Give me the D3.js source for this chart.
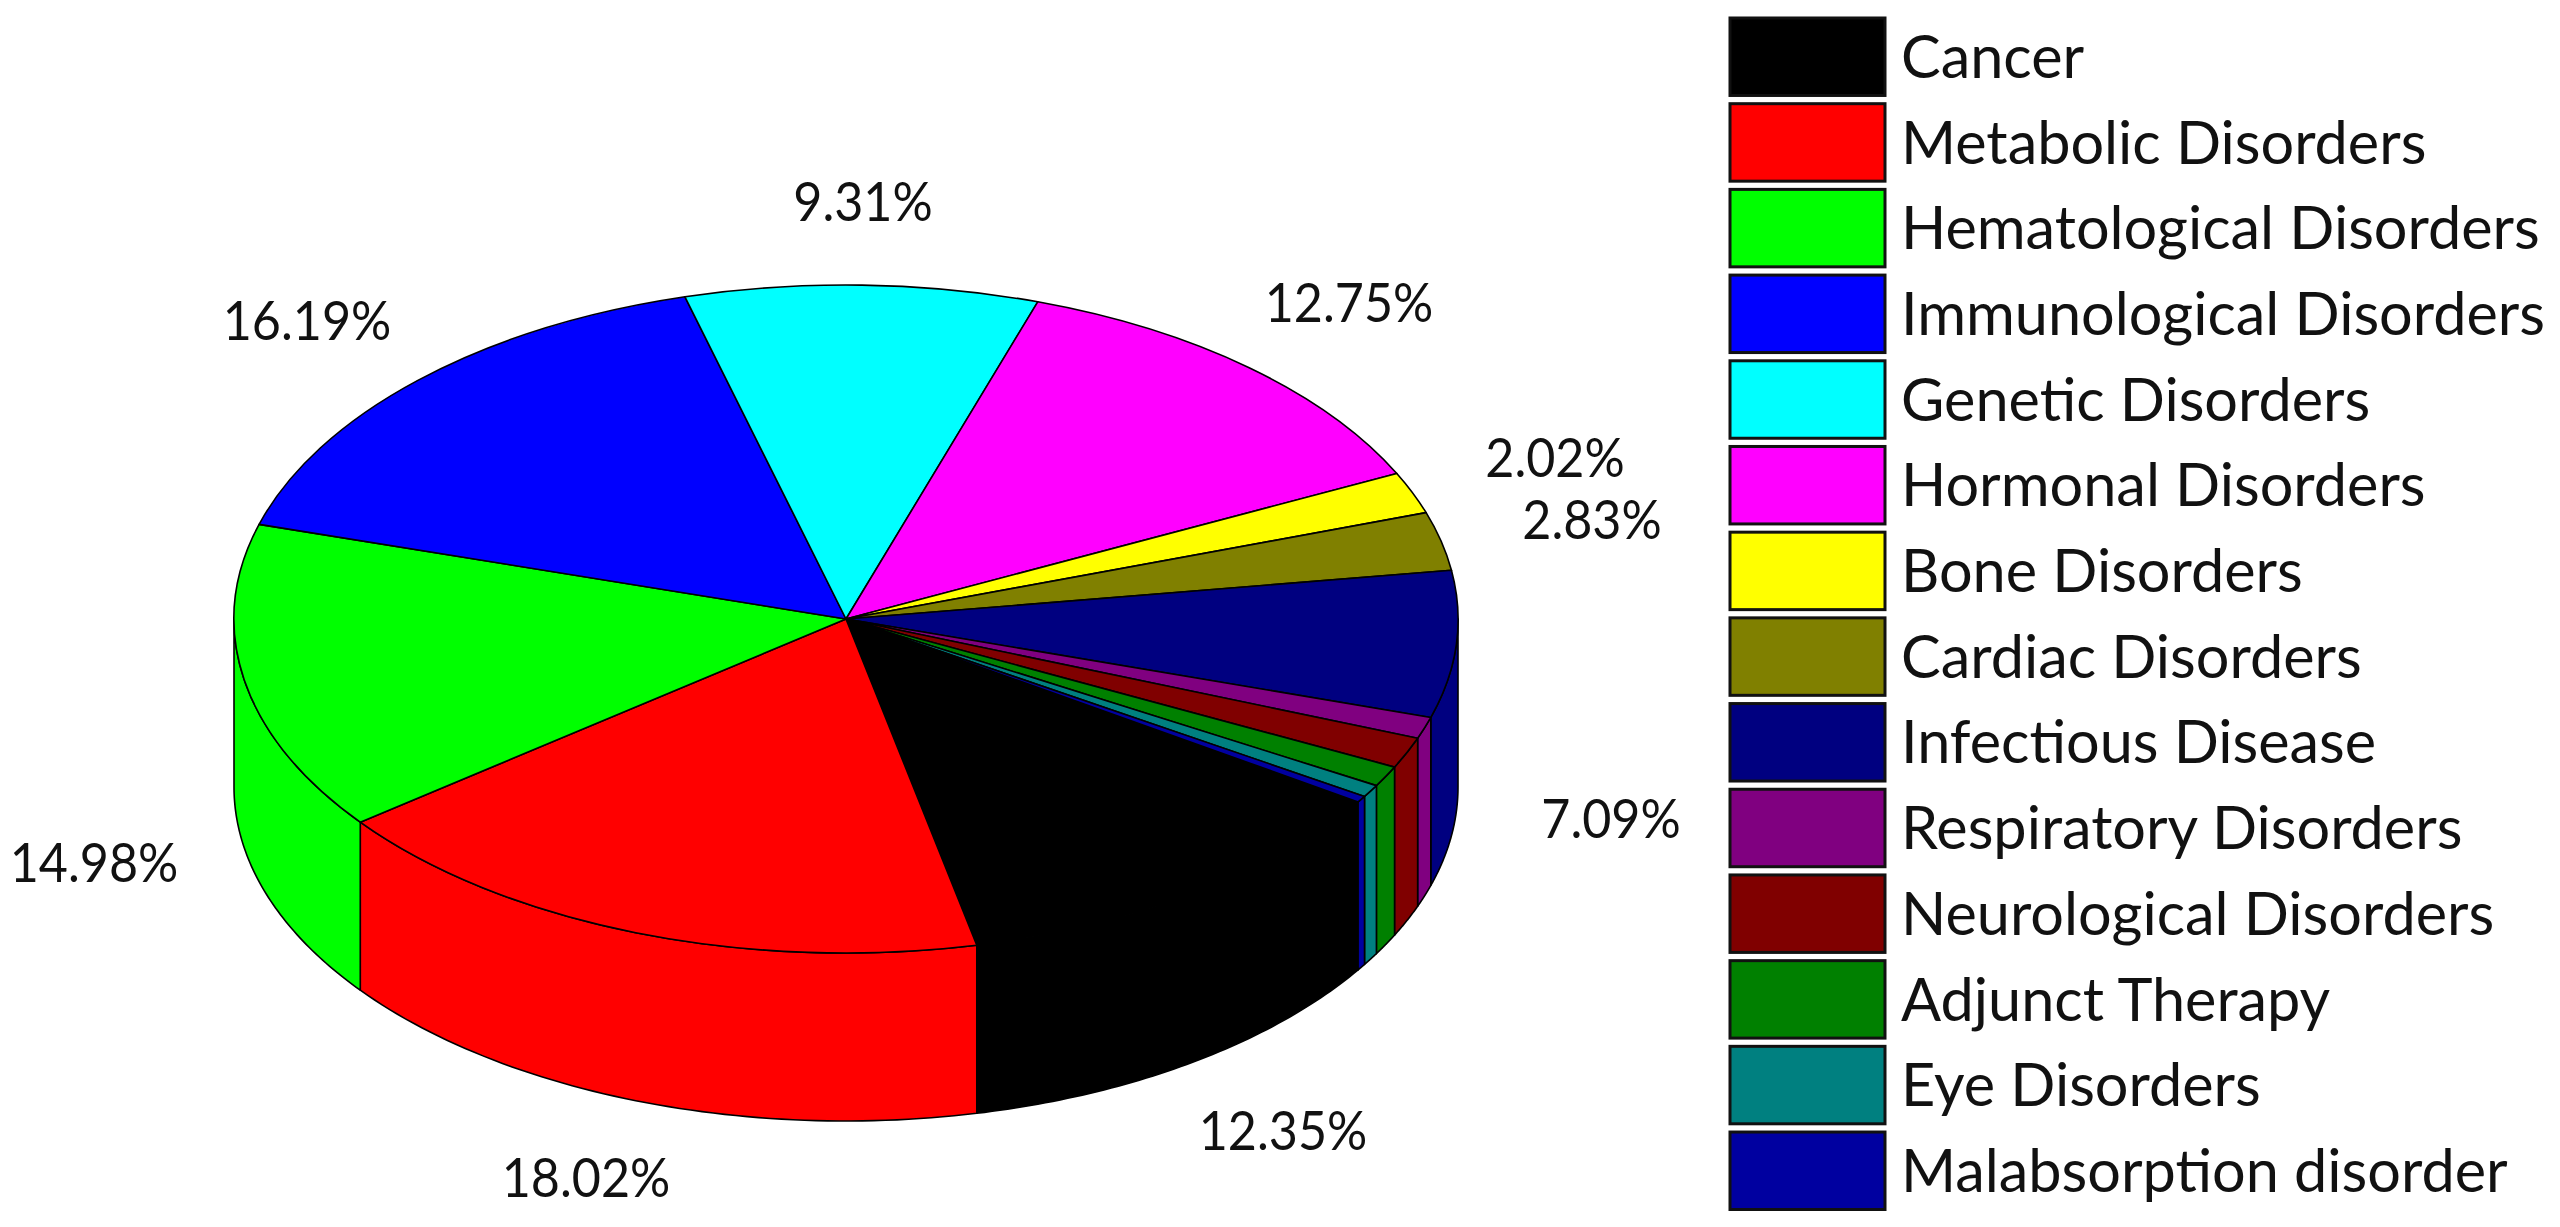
<!DOCTYPE html>
<html><head><meta charset="utf-8">
<script src="https://cdn.jsdelivr.net/npm/d3@7"></script>
<style>html,body{margin:0;padding:0;background:#fff;overflow:hidden}svg{display:block;filter:blur(0.7px)}text{font-family:Lato,"Noto Sans",sans-serif;fill:#111}</style>
</head><body><svg id="c" width="2560" height="1227"></svg>
<script>
const categories=["Cancer","Metabolic Disorders","Hematological Disorders","Immunological Disorders","Genetic Disorders","Hormonal Disorders","Bone Disorders","Cardiac Disorders","Infectious Disease","Respiratory Disorders","Neurological Disorders","Adjunct Therapy","Eye Disorders","Malabsorption disorder"];
const values=[12.35,18.02,14.98,16.19,9.31,12.75,2.02,2.83,7.09,1.05,1.5,1.0,0.6,0.31];
const colors=["#000000","#ff0000","#00ff00","#0000ff","#00ffff","#ff00ff","#ffff00","#808000","#000080","#800080","#800000","#008000","#008080","#0000a0"];
const labelTexts=["12.35%","18.02%","14.98%","16.19%","9.31%","12.75%","2.02%","2.83%","7.09%"];
const labelAnchors=[[1283,1136],[586,1183],[94,868],[307,326],[863,207],[1349,308],[1555,463],[1592,525],[1611,824]];

const cx=846,cy=619,rx=612,ry=334,depth=168;
const svg=d3.select("#c");
const rad=Math.PI/180;
const pie=d3.pie().sort(null).value(d=>d).startAngle(123.2*rad).endAngle(483.2*rad);
const arcs=pie(values);
const px=t=>cx+rx*Math.cos(t), py=t=>cy+ry*Math.sin(t);

// front wall: visible from screen angle 0 to PI
const wall=svg.append("g");
arcs.forEach((a,i)=>{
  const s0=a.startAngle-Math.PI/2, s1=a.endAngle-Math.PI/2;
  [0,2*Math.PI].forEach(k=>{
    const lo=Math.max(s0-k,0), hi=Math.min(s1-k,Math.PI);
    if(hi<=lo) return;
    const ts=d3.range(0,61).map(j=>lo+(hi-lo)*j/60);
    const top=ts.map(t=>[px(t),py(t)]), bot=ts.slice().reverse().map(t=>[px(t),py(t)+depth]);
    wall.append("path").attr("d",d3.line()(top.concat(bot))+"Z")
      .attr("fill",colors[i]).attr("stroke","#000").attr("stroke-width",1.6).attr("stroke-linejoin","round");
  });
});

// top face
const arc=d3.arc().innerRadius(0).outerRadius(rx);
svg.append("g").attr("transform",`translate(${cx},${cy}) scale(1,${ry/rx})`)
  .selectAll("path").data(arcs).join("path")
  .attr("d",arc).attr("fill",(d,i)=>colors[i]).attr("stroke","#000")
  .attr("stroke-width",1.6).attr("vector-effect","non-scaling-stroke").attr("stroke-linejoin","round");

// value labels
svg.append("g").selectAll("text").data(labelTexts).join("text")
  .attr("text-anchor","middle").attr("dominant-baseline","middle")
  .attr("font-size",54)
  .attr("transform",(d,i)=>`translate(${labelAnchors[i][0]},${labelAnchors[i][1]}) scale(0.93,1)`)
  .text(d=>d);

// legend
const y=d3.scaleBand().domain(categories).range([18,1209.5]).paddingInner(0.096).paddingOuter(0);
const lg=svg.append("g");
lg.selectAll("rect").data(categories).join("rect")
  .attr("x",1730).attr("y",d=>y(d)).attr("width",155).attr("height",y.bandwidth())
  .attr("fill",(d,i)=>colors[i]).attr("stroke","#111").attr("stroke-width",3);
lg.selectAll("text").data(categories).join("text")
  .attr("dominant-baseline","middle").attr("font-size",60)
  .attr("transform",d=>`translate(1901,${y(d)+y.bandwidth()/2+6}) scale(0.99,1)`)
  .text(d=>d);
</script></body></html>
